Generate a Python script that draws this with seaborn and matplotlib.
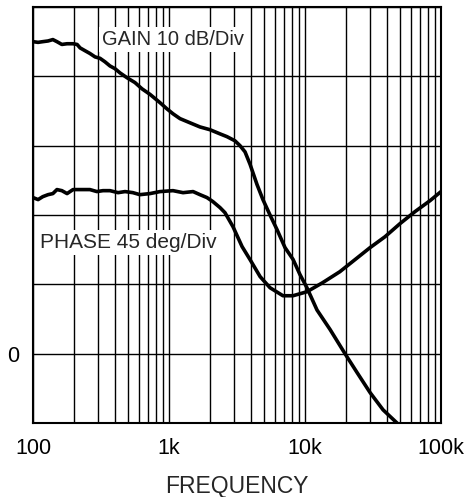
import numpy as np
import pandas as pd
import seaborn as sns
import matplotlib
matplotlib.use("Agg")
import matplotlib.pyplot as plt
from matplotlib.ticker import LogLocator, FixedLocator, NullFormatter

# gain curve (Hz, dB) - 10 dB per division
gain_freq = [100, 109, 118, 129, 140, 150, 163, 178, 197, 211, 222, 241, 262, 286,
             311, 338, 368, 401, 436, 491, 562, 633, 725, 859, 967, 1070, 1205, 1426,
             1690, 2002, 2372, 2669, 3055, 3328, 3624, 3947, 4437, 4911, 5530, 6224,
             7129, 8165, 9190, 10340, 12250, 15270, 19680, 24100, 30060, 37490, 47480, 50000]
gain_db = [45.0, 44.9, 45.0, 45.1, 45.3, 45.0, 44.6, 44.7, 44.7, 44.6, 44.1, 43.7, 43.3, 42.8,
           42.6, 42.1, 41.5, 41.1, 40.5, 39.8, 39.1, 38.2, 37.4, 36.2, 35.3, 34.6, 33.9, 33.3,
           32.7, 32.3, 31.7, 31.3, 30.7, 30.0, 29.1, 27.3, 24.4, 22.2, 20.0, 17.9,
           15.3, 13.6, 11.4, 9.5, 6.3, 3.5, 0.0, -2.7, -5.6, -8.1, -10.0, -10.5]

# phase curve (Hz, deg) - 45 deg per division
phase_freq = [100, 109, 118, 129, 140, 150, 163, 178, 197, 222, 262, 295, 327, 368, 422,
              475, 543, 611, 725, 859, 1070, 1268, 1503, 1690, 1902, 2102, 2372, 2580,
              2955, 3446, 3947, 4677, 5530, 6883, 8165, 10340, 13490, 18040, 23290,
              30060, 38760, 49960, 64400, 83030, 100000]
phase_deg = [101.3, 100.0, 101.9, 103.2, 103.9, 106.5, 105.8, 103.9, 106.5, 106.5, 106.5, 105.2,
             105.8, 105.8, 104.5, 105.2, 104.5, 103.2, 103.9, 105.2, 105.8, 104.5, 105.2, 103.2,
             101.3, 98.7, 94.8, 91.5, 82.4, 69.5, 61.0, 50.0, 42.8, 37.6, 37.6, 40.2, 46.1,
             53.2, 61.0, 68.8, 75.9, 84.4, 92.2, 99.3, 105.2]

x_ticks = [100, 1000, 10000, 100000]
x_ticklabels = ["100", "1k", "10k", "100k"]

df = pd.concat([
    pd.DataFrame({"freq": gain_freq, "div": np.array(gain_db) / 10.0, "curve": "gain"}),
    pd.DataFrame({"freq": phase_freq, "div": np.array(phase_deg) / 45.0, "curve": "phase"}),
])

sns.set_style("white")
plt.rcParams["font.family"] = ["Liberation Sans", "DejaVu Sans"]

fig = plt.figure(figsize=(4.71, 4.97), dpi=100)
ax = fig.add_axes([33 / 471, 1 - 423 / 497, 408 / 471, 416 / 497])

sns.lineplot(data=df, x="freq", y="div", units="curve", estimator=None, sort=False,
             color="black", linewidth=2.6, ax=ax, legend=False)

ax.set_xscale("log")
ax.set_xlim(100, 100000)
ax.set_ylim(-1, 5)

ax.xaxis.set_major_locator(FixedLocator(x_ticks))
ax.set_xticklabels(x_ticklabels)
ax.xaxis.set_minor_locator(LogLocator(base=10, subs=np.arange(2, 10)))
ax.xaxis.set_minor_formatter(NullFormatter())
ax.set_yticks(range(-1, 6))
ax.set_yticklabels(["" if v != 0 else "0" for v in range(-1, 6)])

ax.grid(which="both", axis="x", color="black", linewidth=1.0)
ax.grid(which="major", axis="y", color="black", linewidth=1.0)
ax.tick_params(which="both", length=0, labelsize=15.5, colors="black")
ax.tick_params(axis="x", pad=11)
ax.tick_params(axis="y", pad=10)
for s in ax.spines.values():
    s.set_color("black")
    s.set_linewidth(1.5)

ax.set_xlabel("FREQUENCY", fontsize=16.5, labelpad=11)
ax.set_ylabel("")

ax.text((102 - 33) / 408, 1 - (45 - 7) / 416, "GAIN 10 dB/Div", transform=ax.transAxes,
        fontsize=14.5, ha="left", va="baseline",
        bbox=dict(facecolor="white", edgecolor="none", pad=2))
ax.text((40 - 33) / 408, 1 - (248 - 7) / 416, "PHASE 45 deg/Div", transform=ax.transAxes,
        fontsize=15, ha="left", va="baseline",
        bbox=dict(facecolor="white", edgecolor="none", pad=2))

fig.savefig("out.png", dpi=100)
